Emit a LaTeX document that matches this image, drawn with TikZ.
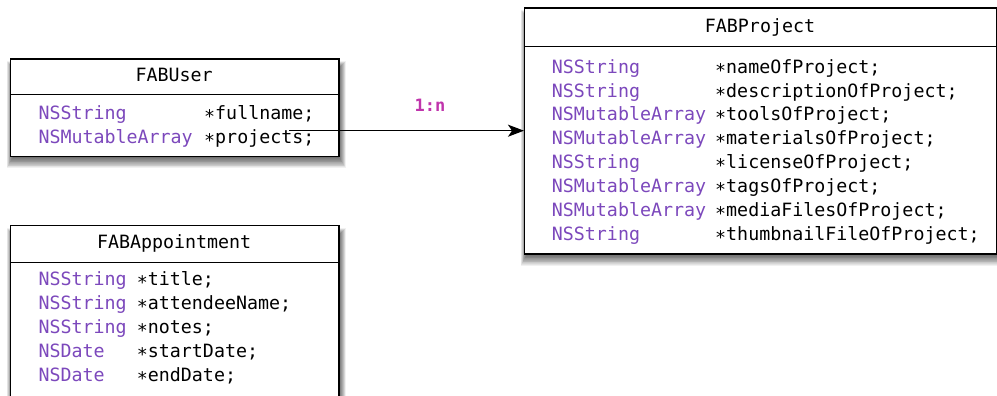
\documentclass[tikz,border=0pt]{standalone}
\usepackage{fontspec}
\setmainfont{DejaVu Sans Mono}
\usetikzlibrary{arrows.meta}
\definecolor{typec}{RGB}{124,72,188}
\definecolor{relc}{RGB}{192,52,172}
\newcommand\softshadow[4]{%
  \foreach \i in {1,...,14}{%
    \fill[black,opacity=0.055] ({#1+3-\i*0.45},{#2+10-\i*0.5}) rectangle ({#3+\i*0.55},{#4+1+\i*0.8});
  }%
}
\tikzset{
  classbox/.style={draw=black, line width=1.4pt, fill=white, inner sep=0pt, anchor=north west},
  sepline/.style={line width=1.4pt},
  hdr/.style={font=\fontsize{18.3}{22}\selectfont, text=black, inner sep=0pt, anchor=base},
  typ/.style={font=\fontsize{18.3}{22}\selectfont, text=typec, inner sep=0pt, anchor=base west},
  fld/.style={font=\fontsize{18.3}{22}\selectfont, text=black, inner sep=0pt, anchor=base west},
  rel/.style={font=\bfseries\fontsize{17}{20}\selectfont, text=relc, inner sep=0pt, anchor=base},
  conn/.style={line width=1.5pt, -{Stealth[length=16pt,width=12pt,inset=4pt]}},
}
\begin{document}
\begin{tikzpicture}[x=1pt,y=-1pt]
\useasboundingbox (0,0) rectangle (997,396);
\clip (0,0) rectangle (997,396);
\fill[white] (0,0) rectangle (997,396);
% shadows
\softshadow{10}{58.3}{338.3}{155.7}
\softshadow{10}{225}{338.3}{420}
\softshadow{524}{7.3}{996}{253.3}
% FABUser
\node[classbox, minimum width=328.3pt, minimum height=97.4pt] (user) at (10,58.3) {};
\draw[sepline] (10,94.3) -- (338.3,94.3);
\node[hdr] (userT) at (174.15,81.7) {FABUser};
\node[typ] (u1t) at (38.3,119.4) {NSString};
\node[fld] (u1f) at (204,119.4) {∗fullname;};
\node[typ] (u2t) at (38.3,143.8) {NSMutableArray};
\node[fld] (u2f) at (204,143.8) {∗projects;};
% FABAppointment
\node[classbox, minimum width=328.3pt, minimum height=200pt] (appt) at (10,225) {};
\draw[sepline] (10,262.3) -- (338.3,262.3);
\node[hdr] (apptT) at (174.15,248.3) {FABAppointment};
\node[typ] (a1t) at (38.3,285.7) {NSString};
\node[fld] (a1f) at (136.7,285.7) {∗title;};
\node[typ] (a2t) at (38.3,309.7) {NSString};
\node[fld] (a2f) at (136.7,309.7) {∗attendeeName;};
\node[typ] (a3t) at (38.3,333.7) {NSString};
\node[fld] (a3f) at (136.7,333.7) {∗notes;};
\node[typ] (a4t) at (38.3,357.7) {NSDate};
\node[fld] (a4f) at (136.7,357.7) {∗startDate;};
\node[typ] (a5t) at (38.3,381.7) {NSDate};
\node[fld] (a5f) at (136.7,381.7) {∗endDate;};
% FABProject
\node[classbox, minimum width=472pt, minimum height=246pt] (proj) at (524,7.3) {};
\draw[sepline] (524,46.7) -- (996,46.7);
\node[hdr] (projT) at (760,32.3) {FABProject};
\node[typ] (p1t) at (551.7,73.3) {NSString};
\node[fld] (p1f) at (715,73.3) {∗nameOfProject;};
\node[typ] (p2t) at (551.7,97.1) {NSString};
\node[fld] (p2f) at (715,97.1) {∗descriptionOfProject;};
\node[typ] (p3t) at (551.7,120.9) {NSMutableArray};
\node[fld] (p3f) at (715,120.9) {∗toolsOfProject;};
\node[typ] (p4t) at (551.7,144.7) {NSMutableArray};
\node[fld] (p4f) at (715,144.7) {∗materialsOfProject;};
\node[typ] (p5t) at (551.7,168.5) {NSString};
\node[fld] (p5f) at (715,168.5) {∗licenseOfProject;};
\node[typ] (p6t) at (551.7,192.3) {NSMutableArray};
\node[fld] (p6f) at (715,192.3) {∗tagsOfProject;};
\node[typ] (p7t) at (551.7,216.1) {NSMutableArray};
\node[fld] (p7f) at (715,216.1) {∗mediaFilesOfProject;};
\node[typ] (p8t) at (551.7,240) {NSString};
\node[fld] (p8f) at (715,240) {∗thumbnailFileOfProject;};
% relationship
\coordinate (relstart) at (289,130.7);
\draw[conn] (relstart) -- (relstart -| proj.west);
\node[rel] (card) at (430,111.7) {1:n};
\end{tikzpicture}
\end{document}
